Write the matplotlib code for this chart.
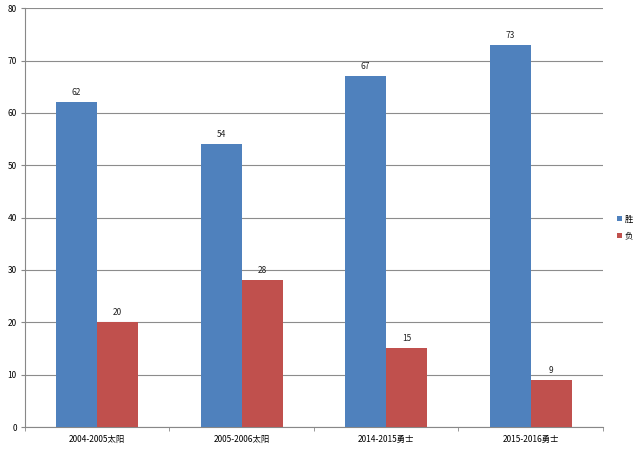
import matplotlib.pyplot as plt
import numpy as np

plt.rcParams['font.family'] = ['Noto Sans CJK SC', 'DejaVu Sans']

categories = ['2004-2005太阳', '2005-2006太阳', '2014-2015勇士', '2015-2016勇士']
wins = [62, 54, 67, 73]
losses = [20, 28, 15, 9]

fig = plt.figure(figsize=(6.4, 4.55), dpi=100)
ax = fig.add_axes([0.039, 0.0615, 0.903, 0.9205])

x = np.arange(len(categories))
w = 0.284
b1 = ax.bar(x - w / 2, wins, w, color='#4F81BD', label='胜', zorder=3)
b2 = ax.bar(x + w / 2, losses, w, color='#C0504D', label='负', zorder=3)

for bars, vals in ((b1, wins), (b2, losses)):
    for r, v in zip(bars, vals):
        ax.text(r.get_x() + r.get_width() / 2, v + 1.0, str(v),
                ha='center', va='bottom', fontsize=6, color='#222222')

ax.set_xlim(-0.5, len(categories) - 0.5)
ax.set_ylim(0, 80)
ax.set_yticks(range(0, 81, 10))
ax.yaxis.grid(True, color='#8c8c8c', linewidth=0.8, zorder=0)
ax.set_xticks(x)
ax.set_xticklabels(categories)
ax.set_xticks(np.arange(-0.5, len(categories)), minor=True)
ax.tick_params(axis='x', which='major', length=0, labelsize=6, pad=6)
ax.tick_params(axis='x', which='minor', length=3, color='#888888', direction='out')
ax.tick_params(axis='y', labelsize=6, length=3, color='#888888', pad=3)

for s in ('top', 'right'):
    ax.spines[s].set_visible(False)
ax.spines['left'].set_color('#888888')
ax.spines['bottom'].set_color('#888888')

fig.legend(handles=[b1, b2], labels=['胜', '负'], loc='center left',
           bbox_to_anchor=(0.953, 0.5), frameon=False, fontsize=6,
           handlelength=0.6, handleheight=0.6, handletextpad=0.3,
           labelspacing=0.9)

fig.savefig('out.png', dpi=100)
